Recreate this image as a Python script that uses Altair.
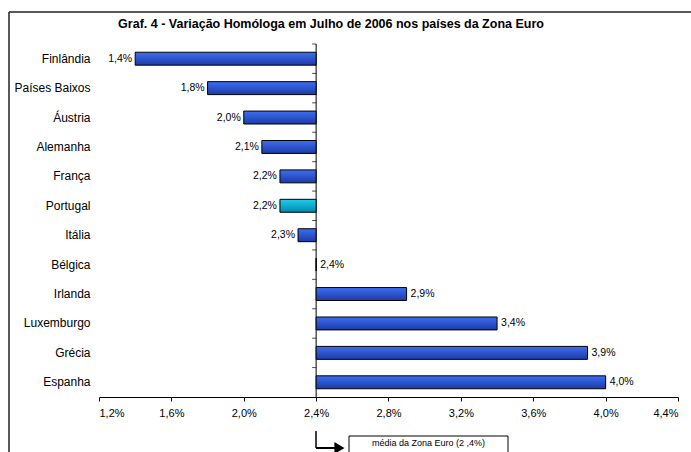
import altair as alt
import pandas as pd

countries = ["Finlândia", "Países Baixos", "Áustria", "Alemanha", "França", "Portugal",
             "Itália", "Bélgica", "Irlanda", "Luxemburgo", "Grécia", "Espanha"]
values = [1.4, 1.8, 2.0, 2.1, 2.2, 2.2, 2.3, 2.4, 2.9, 3.4, 3.9, 4.0]
highlight = "Portugal"
BASELINE = 2.4
x_ticks = [1.2, 1.6, 2.0, 2.4, 2.8, 3.2, 3.6, 4.0, 4.4]
title_text = "Graf. 4 - Variação Homóloga em Julho de 2006 nos países da Zona Euro"
note_text = "média da Zona Euro (2 ,4%)"

labels = [f"{v:.1f}".replace(".", ",") + "%" for v in values]
df = pd.DataFrame({
    "country": countries,
    "value": values,
    "base": [BASELINE] * len(values),
    "label": labels,
    "hl": [c == highlight for c in countries],
})

W, H = 579, 353
STEP = H / len(countries)
FONT = "Liberation Sans"

x_scale = alt.Scale(domain=[1.2, 4.4], nice=False, zero=False)
y_scale = alt.Scale(domain=countries, paddingInner=0.56, paddingOuter=0.28)
x_axis = alt.Axis(values=x_ticks, title=None, grid=False, domainColor="black",
                  tickColor="black", tickSize=4, labelFontSize=11, labelFont=FONT,
                  labelColor="black", labelPadding=6,
                  labelExpr="replace(format(datum.value, '.1f'), '.', ',') + '%'")
y_axis = alt.Axis(title=None, grid=False, domain=False, ticks=False, labelFontSize=12,
                  labelFont=FONT, labelColor="black", labelPadding=9, labelLimit=300)

X = alt.X("value:Q", scale=x_scale, axis=x_axis, title=None)
Y = alt.Y("country:N", scale=y_scale, axis=y_axis, sort=countries, title=None)

blue = alt.LinearGradient(gradient="linear", x1=0, y1=0, x2=0, y2=1,
                          stops=[alt.GradientStop(offset=0, color="#3d6ef2"),
                                 alt.GradientStop(offset=1, color="#1d3aa6")])
cyan = alt.LinearGradient(gradient="linear", x1=0, y1=0, x2=0, y2=1,
                          stops=[alt.GradientStop(offset=0, color="#22cdeb"),
                                 alt.GradientStop(offset=1, color="#0088ad")])

base = alt.Chart(df)
one = alt.Chart(alt.Data(values=[{}]))

bars_blue = base.transform_filter("!datum.hl").mark_bar(
    fill=blue, stroke="black", strokeWidth=1).encode(x=X, x2="base:Q", y=Y)
bars_cyan = base.transform_filter("datum.hl").mark_bar(
    fill=cyan, stroke="black", strokeWidth=1).encode(x=X, x2="base:Q", y=Y)

lab_left = base.transform_filter(f"datum.value < {BASELINE}").mark_text(
    align="right", baseline="middle", dx=-3, fontSize=10.5, font=FONT, color="black"
).encode(x=X, y=Y, text="label:N")
lab_right = base.transform_filter(f"datum.value >= {BASELINE}").mark_text(
    align="left", baseline="middle", dx=4, fontSize=10.5, font=FONT, color="black"
).encode(x=X, y=Y, text="label:N")

axis_line = one.mark_rule(color="black", strokeWidth=1).encode(
    x=alt.datum(BASELINE, scale=x_scale), y=alt.value(0), y2=alt.value(H))
tick_marks = base.mark_tick(color="black", thickness=1, size=4, orient="horizontal",
                            yOffset=-STEP / 2, xOffset=-2).encode(
    x=alt.X("base:Q", scale=x_scale, title=None), y=Y)

title = one.mark_text(fontSize=12.5, fontWeight="bold", font=FONT, color="black",
                      align="center", baseline="middle").encode(
    x=alt.value(232), y=alt.value(-20), text=alt.value(title_text))

frame_top = one.mark_rule(color="#222", strokeWidth=1.5).encode(
    x=alt.value(-90), x2=alt.value(600), y=alt.value(-32))
frame_left = one.mark_rule(color="#222", strokeWidth=1.5).encode(
    x=alt.value(-90), y=alt.value(-32), y2=alt.value(420))

arrow_v = one.mark_rule(color="black", strokeWidth=1.5).encode(
    x=alt.value(217), y=alt.value(387), y2=alt.value(404))
arrow_h = one.mark_rule(color="black", strokeWidth=2).encode(
    x=alt.value(217), x2=alt.value(238), y=alt.value(404))
arrow_head = one.mark_point(shape="triangle-right", filled=True, fill="black",
                            stroke="black", size=70, opacity=1).encode(
    x=alt.value(240), y=alt.value(404))
note_box = one.mark_rect(fill="white", stroke="black", strokeWidth=1).encode(
    x=alt.value(250), x2=alt.value(409), y=alt.value(392), y2=alt.value(420))
note = one.mark_text(fontSize=9, font=FONT, color="black", align="center",
                     baseline="middle").encode(
    x=alt.value(329.5), y=alt.value(399), text=alt.value(note_text))

chart = alt.layer(
    frame_top, frame_left, title, tick_marks, axis_line,
    bars_blue, bars_cyan, lab_left, lab_right,
    arrow_v, arrow_h, arrow_head, note_box, note,
).properties(
    width=W, height=H,
    autosize=alt.AutoSizeParams(type="none"),
    padding={"left": 99, "top": 44, "right": 13, "bottom": 55},
    background="white",
).configure_view(stroke=None)

chart.save("out.html", embed_options={"renderer": "svg", "actions": False})
